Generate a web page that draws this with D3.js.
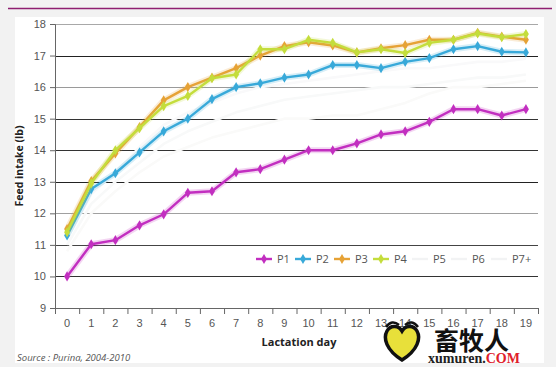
<!DOCTYPE html>
<html><head><meta charset="utf-8">
<script src="https://cdn.jsdelivr.net/npm/d3@7/dist/d3.min.js"></script>
<style>
html,body{margin:0;padding:0;background:#f3f3f3;}
svg{display:block;font-family:"Open Sans","Noto Sans",sans-serif;}
</style></head><body>
<svg id="chart" width="556" height="367"></svg>
<script>
const days = d3.range(0, 20);
const yTicks = [9, 10, 11, 12, 13, 14, 15, 16, 17, 18];
const seriesNames = ["P1", "P2", "P3", "P4", "P5", "P6", "P7+"];
const P1 = [10.0, 11.02, 11.15, 11.62, 11.97, 12.65, 12.7, 13.3, 13.4, 13.7, 14.0, 14.0, 14.22, 14.5, 14.6, 14.9, 15.3, 15.3, 15.1, 15.3];
const P2 = [11.3, 12.77, 13.27, 13.93, 14.6, 15.0, 15.62, 16.0, 16.12, 16.3, 16.4, 16.7, 16.7, 16.6, 16.8, 16.92, 17.2, 17.3, 17.12, 17.1];
const P3 = [11.5, 13.02, 13.9, 14.73, 15.58, 16.0, 16.3, 16.6, 17.0, 17.3, 17.42, 17.32, 17.1, 17.23, 17.33, 17.5, 17.5, 17.72, 17.6, 17.5];
const P4 = [11.4, 12.95, 14.0, 14.7, 15.4, 15.72, 16.28, 16.4, 17.2, 17.2, 17.5, 17.4, 17.1, 17.2, 17.08, 17.4, 17.5, 17.7, 17.58, 17.68];
const P5 = [11.2, 12.6, 13.3, 14.1, 14.8, 15.2, 15.5, 15.8, 16.0, 16.1, 16.2, 16.3, 16.4, 16.5, 16.6, 16.6, 16.7, 16.8, 16.8, 16.9];
const P6 = [11.0, 12.3, 13.0, 13.6, 14.2, 14.6, 14.9, 15.2, 15.4, 15.6, 15.7, 15.8, 15.9, 16.0, 16.0, 16.1, 16.2, 16.3, 16.3, 16.4];
const P7 = [10.8, 12.0, 12.7, 13.3, 13.8, 14.1, 14.4, 14.6, 14.8, 15.0, 15.0, 15.1, 15.1, 15.3, 15.5, 15.8, 16.0, 16.0, 16.1, 16.2];
const seriesValues = [P1, P2, P3, P4, P5, P6, P7];
const colors = ["#c22fc0", "#38a9d9", "#e6a236", "#c4dd3c", "#f9f9fa", "#f8f9f9", "#fafaf9"];

const svg = d3.select("#chart");
const L = 55, R = 538, T = 24, B = 308;

// page panel
svg.append("rect").attr("x", 0).attr("y", 0).attr("width", 556).attr("height", 367).attr("fill", "#f2f2f2");
svg.append("rect").attr("x", 15).attr("y", 17).attr("width", 529).attr("height", 346).attr("fill", "#ffffff");
svg.append("line").attr("x1", 8).attr("x2", 552).attr("y1", 8.5).attr("y2", 8.5)
  .attr("stroke", "#8e1f70").attr("stroke-width", 1.6);

const x = d3.scaleBand().domain(days).range([L, R]);
const xEdge = d3.scaleLinear().domain([0, 20]).range([L, R]);
const y = d3.scaleLinear().domain([9, 18]).range([B, T]);

// gridlines
const gridCol = v => ({18: "#a8a8a8", 17: "#222", 16: "#9a9a9a", 15: "#333", 14: "#333", 13: "#222", 12: "#a0a0a0", 11: "#444", 10: "#333"})[v];
svg.append("g").selectAll("line").data(yTicks.filter(v => v > 9)).join("line")
  .attr("x1", L).attr("x2", R)
  .attr("y1", d => Math.round(y(d)) + 0.5).attr("y2", d => Math.round(y(d)) + 0.5)
  .attr("stroke", gridCol).attr("stroke-width", 1.2);

// y axis
const yAxis = svg.append("g").attr("transform", `translate(${L},0)`)
  .call(d3.axisLeft(y).tickValues(yTicks).tickSize(5).tickPadding(4));
yAxis.select(".domain").attr("stroke", "#666");
yAxis.selectAll(".tick line").attr("stroke", "#666");
yAxis.selectAll("text").attr("fill", "#555").attr("font-size", 11);

// x axis
const xAxis = svg.append("g").attr("transform", `translate(0,${B})`)
  .call(d3.axisBottom(xEdge).tickValues(d3.range(0, 21)).tickSize(6).tickFormat(""));
xAxis.select(".domain").attr("stroke", "#666");
xAxis.selectAll(".tick line").attr("stroke", "#666");
svg.append("g").attr("transform", `translate(0,${B})`)
  .call(d3.axisBottom(x).tickSize(0).tickPadding(11))
  .call(g => g.select(".domain").remove())
  .selectAll("text").attr("fill", "#555").attr("font-size", 11);

// series
const line = d3.line().x((d, i) => x(days[i]) + x.bandwidth() / 2).y(d => y(d));
const order = [6, 5, 4, 0, 1, 2, 3];
const diamond = d3.symbol().type(d3.symbolDiamond).size(30);
order.forEach(k => {
  const g = svg.append("g");
  const vals = seriesValues[k];
  if (k < 4) {
    g.append("path").attr("d", line(vals)).attr("fill", "none")
      .attr("stroke", colors[k]).attr("stroke-opacity", 0.2).attr("stroke-width", 6).attr("stroke-linejoin", "round");
  }
  g.append("path").attr("d", line(vals)).attr("fill", "none")
    .attr("stroke", colors[k]).attr("stroke-width", k < 4 ? 2.4 : 2.6).attr("stroke-linejoin", "round");
  if (k < 4) {
    g.selectAll("path.m").data(vals).join("path").attr("class", "m")
      .attr("transform", (d, i) => `translate(${x(days[i]) + x.bandwidth() / 2},${y(d)})`)
      .attr("d", diamond).attr("fill", colors[k]);
  }
});

// legend
const legX = [277, 316, 355, 394, 433, 472, 512];
const lg = svg.append("g").attr("transform", "translate(0,259)");
seriesNames.forEach((n, k) => {
  const g = lg.append("g");
  g.append("line").attr("x1", legX[k] - 21).attr("x2", legX[k] - 5).attr("y1", 0).attr("y2", 0)
    .attr("stroke", k < 4 ? colors[k] : "#f2f3f4").attr("stroke-width", 2.4);
  if (k < 4) g.append("path").attr("transform", `translate(${legX[k] - 13},0)`).attr("d", diamond).attr("fill", colors[k]);
  g.append("text").attr("x", legX[k]).attr("y", 4).attr("font-size", 11).attr("fill", "#555").text(n);
});

// titles
svg.append("text").attr("transform", "translate(23,166) rotate(-90)").attr("text-anchor", "middle")
  .attr("font-size", 10.5).attr("font-weight", "bold").attr("fill", "#222").text("Feed intake (lb)");
svg.append("text").attr("x", 299).attr("y", 346).attr("text-anchor", "middle")
  .attr("font-size", 11).attr("font-weight", "bold").attr("fill", "#222").text("Lactation day");
svg.append("text").attr("x", 17).attr("y", 361).attr("font-size", 9.5).attr("font-style", "italic")
  .attr("fill", "#555").text("Source : Purina, 2004-2010");

// watermark
const wm = svg.append("g");
wm.append("path").attr("d", "M402,360 C386,350 383,338 387,331 C391,324 399,326 402,331 C405,326 413,324 417,331 C421,338 418,350 402,360 Z")
  .attr("fill", "#e8e03a").attr("stroke", "#111").attr("stroke-width", 3.5);
wm.append("path").attr("d", "M386,327 Q392,319 399,325 M405,325 Q412,319 418,327").attr("fill", "none").attr("stroke", "#111").attr("stroke-width", 2.5);
wm.append("text").attr("x", 434).attr("y", 350).attr("font-size", 25).attr("font-weight", "bold")
  .attr("font-family", "Noto Sans CJK SC").attr("fill", "#111").text("畜牧人");
const wt = wm.append("text").attr("x", 428).attr("y", 363).attr("font-size", 14).attr("font-weight", "bold")
  .attr("font-family", "Liberation Serif").attr("fill", "#222");
wt.append("tspan").text("xumuren.");
wt.append("tspan").attr("fill", "#e0202a").text("COM");
</script>
</body></html>
